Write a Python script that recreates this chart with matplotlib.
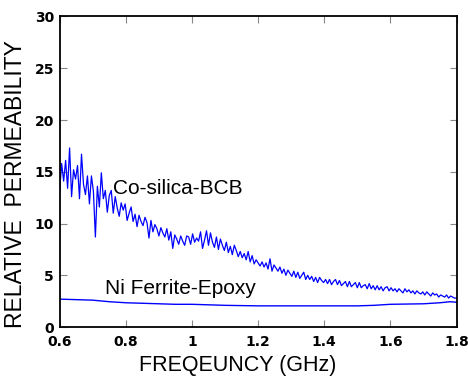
import numpy as np
import matplotlib
matplotlib.use("Agg")
import matplotlib.pyplot as plt

# =============================================================================
# Data
# =============================================================================
# frequency sweep (GHz) of the Co-silica-BCB measurement
freq_co = np.linspace(0.6, 1.8, 201)
mu_co = [
    13.2, 15.8, 14.1, 16.1, 13.4, 17.3, 12.6, 15.2, 14.3, 15.6,
    12.4, 16.7, 13.8, 12.8, 14.6, 11.9, 14.6, 13.1, 8.7, 13.6,
    11.6, 14.9, 12.4, 13.2, 11.1, 12.7, 13.2, 11.0, 12.6, 11.5,
    10.7, 12.0, 11.3, 11.9, 10.3, 11.0, 11.6, 10.2, 10.9, 9.7,
    10.8, 10.2, 9.8, 10.6, 10.1, 8.6, 10.3, 9.2, 9.9, 9.5,
    8.8, 9.6, 9.1, 8.7, 9.5, 8.4, 9.2, 7.6, 8.9, 8.5,
    8.0, 8.8, 8.3, 7.9, 8.8, 8.7, 8.0, 9.0, 8.2, 8.6,
    8.3, 9.2, 7.6, 8.4, 9.3, 7.9, 9.1, 8.2, 7.7, 8.7,
    7.5, 8.5, 7.9, 7.4, 8.2, 7.2, 7.8, 7.0, 7.9, 7.4,
    6.8, 7.3, 6.7, 7.1, 6.5, 7.3, 6.3, 6.9, 6.1, 6.5,
    6.2, 5.9, 6.3, 5.8, 6.2, 5.6, 6.6, 5.4, 6.0, 5.7,
    5.4, 5.8, 5.2, 5.6, 5.0, 5.5, 5.2, 4.9, 5.4, 4.8,
    5.3, 4.7, 5.0, 5.3, 4.6, 5.0, 4.6, 4.9, 4.4, 4.8,
    4.3, 4.8, 4.5, 4.3, 4.6, 4.2, 4.6, 4.1, 4.4, 4.6,
    4.1, 4.5, 4.0, 4.2, 4.4, 3.9, 4.4, 3.9, 4.1, 4.3,
    3.8, 4.3, 3.8, 4.0, 4.1, 3.7, 4.2, 3.7, 4.0, 3.6,
    4.0, 3.6, 3.9, 3.5, 3.8, 3.9, 3.5, 3.8, 3.5, 3.7,
    3.4, 3.7, 3.5, 3.3, 3.7, 3.4, 3.6, 3.3, 3.5, 3.2,
    3.5, 3.3, 3.2, 3.4, 3.1, 3.4, 3.2, 3.0, 3.3, 3.1,
    3.2, 2.9, 3.1, 3.0, 2.9, 3.1, 2.8, 3.0, 2.9, 2.8, 2.8,
]

# Ni ferrite-epoxy: smooth curve
freq_ni = [0.6, 0.65, 0.7, 0.75, 0.8, 0.85, 0.9, 0.95, 1.0, 1.05, 1.1,
           1.2, 1.3, 1.4, 1.5, 1.55, 1.6, 1.7, 1.75, 1.78, 1.8]
mu_ni = [2.7, 2.65, 2.6, 2.45, 2.35, 2.3, 2.25, 2.2, 2.2, 2.15, 2.1,
         2.05, 2.05, 2.05, 2.05, 2.1, 2.2, 2.25, 2.35, 2.45, 2.4]

xticks = [0.6, 0.8, 1.0, 1.2, 1.4, 1.6, 1.8]
xticklabels = ['0.6', '0.8', '1', '1.2', '1.4', '1.6', '1.8']
yticks = [0, 5, 10, 15, 20, 25, 30]

# =============================================================================
# Plot
# =============================================================================
plt.rcParams['font.family'] = ['Liberation Sans', 'DejaVu Sans']

fig = plt.figure(figsize=(4.68, 3.83), dpi=100)
ax = fig.add_axes([0.1275, 0.146, 0.848, 0.811])

ax.plot(freq_co, mu_co, color='#0000ff', lw=0.9)
ax.plot(freq_ni, mu_ni, color='#0000ff', lw=1.0)

ax.text(0.76, 13.4, 'Co-silica-BCB', fontsize=15, va='center', ha='left')
ax.text(0.738, 3.7, 'Ni Ferrite-Epoxy', fontsize=15, va='center', ha='left')

ax.set_xlim(0.6, 1.8)
ax.set_ylim(0, 30)
ax.set_xticks(xticks)
ax.set_xticklabels(xticklabels)
ax.set_yticks(yticks)

ax.tick_params(direction='in', top=True, right=True, length=5,
               color='#888888', labelsize=10)
ax.tick_params(axis='x', pad=6)
ax.tick_params(axis='y', pad=4)
for lab in ax.get_xticklabels() + ax.get_yticklabels():
    lab.set_family('DejaVu Sans')
    lab.set_fontweight('bold')
for sp in ax.spines.values():
    sp.set_linewidth(1.3)

ax.set_xlabel('FREQEUNCY (GHz)', fontsize=15.5)
ax.xaxis.set_label_coords(0.448, -0.09)
ax.set_ylabel('RELATIVE  PERMEABILITY', fontsize=16.5)
ax.yaxis.set_label_coords(-0.082, 0.46)

fig.savefig('out.png', dpi=100)
